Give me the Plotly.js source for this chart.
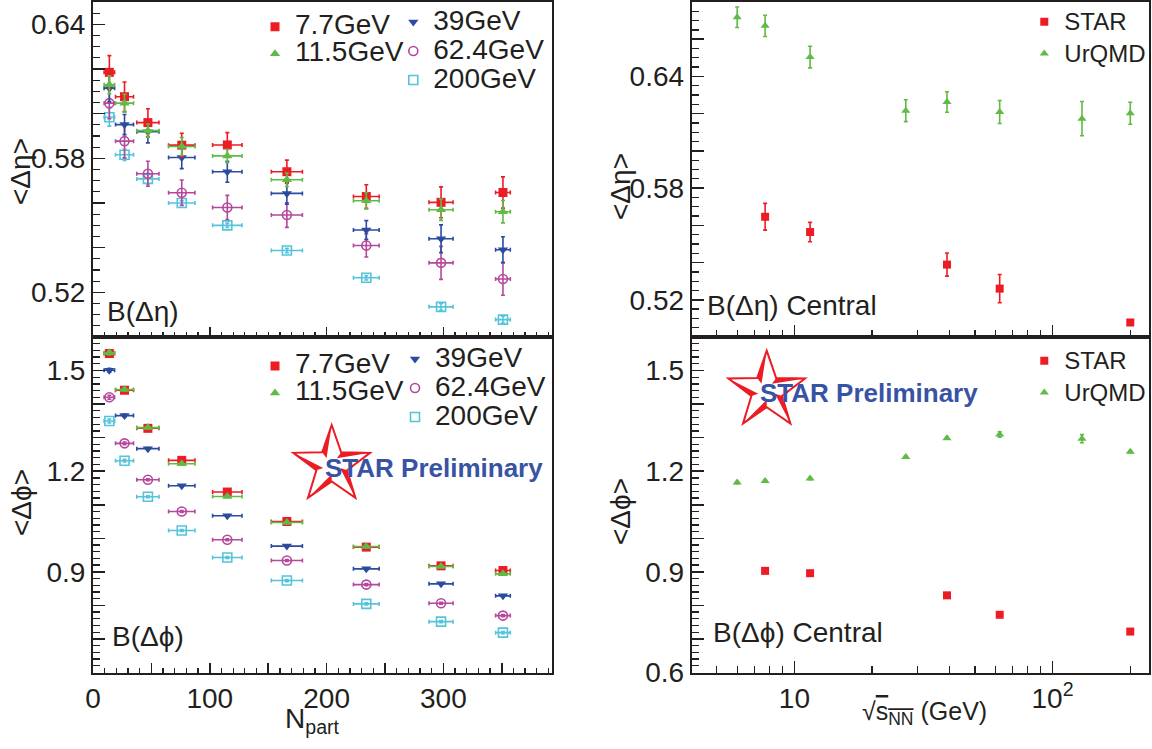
<!DOCTYPE html>
<html><head><meta charset="utf-8">
<script src="https://cdn.plot.ly/plotly-3.0.1.min.js"></script>
<style>html,body{margin:0;padding:0;background:#fff}</style>
</head><body><div id="chart" style="width:1152px;height:749px"></div>
<script>
// ---------- data ----------
const nPart = [14, 27, 47, 76, 115, 166, 234, 298, 351];
const nPartErr = [4.5, 7.7, 9.5, 11.3, 12.6, 13.3, 11, 10.3, 6.3];

const etaMean_7p7  = [0.6185, 0.6076, 0.5960, 0.5859, 0.5860, 0.5740, 0.5629, 0.5603, 0.5647];
const etaErr_7p7   = [0.0075, 0.0066, 0.0062, 0.0053, 0.0055, 0.0052, 0.0053, 0.0069, 0.0070];
const etaMean_11p5 = [0.6129, 0.6047, 0.5924, 0.5853, 0.5811, 0.5704, 0.5610, 0.5570, 0.5561];
const etaErr_11p5  = [0.0040, 0.0040, 0.0030, 0.0040, 0.0030, 0.0030, 0.0037, 0.0048, 0.0050];
const etaMean_39   = [0.6114, 0.5951, 0.5919, 0.5804, 0.5740, 0.5643, 0.5479, 0.5440, 0.5391];
const etaErr_39    = [0.0060, 0.0045, 0.0050, 0.0050, 0.0047, 0.0048, 0.0042, 0.0062, 0.0058];
const etaMean_62p4 = [0.6047, 0.5877, 0.5731, 0.5646, 0.5580, 0.5546, 0.5410, 0.5332, 0.5260];
const etaErr_62p4  = [0.0070, 0.0075, 0.0056, 0.0057, 0.0054, 0.0055, 0.0052, 0.0074, 0.0073];
const etaMean_200  = [0.5984, 0.5816, 0.5708, 0.5600, 0.5500, 0.5387, 0.5265, 0.5135, 0.5078];
const etaErr_200   = [0.0040, 0.0025, 0.0025, 0.0010, 0.0010, 0.0010, 0.0010, 0.0015, 0.0015];

const phiMean_7p7  = [1.5507, 1.4413, 1.3278, 1.2323, 1.1379, 1.0502, 0.9737, 0.9179, 0.9039];
const phiMean_11p5 = [1.5528, 1.4433, 1.3299, 1.2224, 1.1248, 1.0473, 0.9756, 0.9159, 0.8940];
const phiMean_39   = [1.5010, 1.3657, 1.2672, 1.1567, 1.0672, 0.9767, 0.9090, 0.8642, 0.8284];
const phiMean_62p4 = [1.4204, 1.2830, 1.1746, 1.0800, 0.9955, 0.9338, 0.8620, 0.8066, 0.7696];
const phiMean_200  = [1.3498, 1.2313, 1.1239, 1.0233, 0.9427, 0.8740, 0.8045, 0.7516, 0.7188];
const phiErr       = [0.006, 0.004, 0.003, 0.003, 0.003, 0.003, 0.003, 0.003, 0.003];

const sqrtS_star  = [7.7, 11.5, 39, 62.4, 200];
const sqrtS_urqmd = [6, 7.7, 11.5, 27, 39, 62.4, 130, 200];
const centralEta_star     = [0.5646, 0.5564, 0.5389, 0.5260, 0.5078];
const centralEtaErr_star  = [0.0072, 0.0052, 0.0062, 0.0076, 0.0010];
const centralEta_urqmd    = [0.6718, 0.6672, 0.6504, 0.6216, 0.6263, 0.6209, 0.6173, 0.6202];
const centralEtaErr_urqmd = [0.0055, 0.0057, 0.0058, 0.0059, 0.0055, 0.0062, 0.0092, 0.0059];
const centralPhi_star     = [0.903, 0.896, 0.830, 0.772, 0.722];
const centralPhiErr_star  = [0.008, 0.003, 0.003, 0.006, 0.003];
const centralPhi_urqmd    = [1.166, 1.171, 1.178, 1.242, 1.2985, 1.3095, 1.297, 1.258];
const centralPhiErr_urqmd = [0.003, 0.003, 0.003, 0.003, 0.003, 0.008, 0.012, 0.003];

const energyNames = ['7.7GeV', '11.5GeV', '39GeV', '62.4GeV', '200GeV'];
const modelNames = ['STAR', 'UrQMD'];
const leftXTicks = [0, 50, 100, 150, 200, 250, 300, 350];
const leftXTickText = ['0', '', '100', '', '200', '', '300', ''];
const etaTicks = [0.50, 0.52, 0.54, 0.56, 0.58, 0.60, 0.62, 0.64, 0.66, 0.68];
const etaTickText = ['', '0.52', '', '', '0.58', '', '', '0.64', '', ''];
const phiTicks = [0.6, 0.7, 0.8, 0.9, 1.0, 1.1, 1.2, 1.3, 1.4, 1.5, 1.6];
const phiTickTextL = ['', '', '', '0.9', '', '', '1.2', '', '', '1.5', ''];
const phiTickTextR = ['0.6', '', '', '0.9', '', '', '1.2', '', '', '1.5', ''];
const logMajor = [10, 100];
const logMajorText = ['10', '10<sup>2</sup>'];
const logMinor = [4, 5, 6, 7, 8, 9, 20, 30, 40, 50, 60, 70, 80, 90, 200];

// ---------- styling ----------
const W = 1152, H = 749;
const px = v => v / W, py = v => 1 - v / H;
const INK = '#231f20';
const FONT = 'Liberation Sans, Arial, Helvetica, sans-serif';
const C = {e7: '#ec1c24', e11: '#5fba46', e39: '#2b4b9e', e62: '#b5479d', e200: '#55c3d9'};

function big(t, s) { return '<span style="font-size:' + s + 'px">' + t + '</span>'; }

function trace(x, y, ey, ex, name, color, symbol, xa, ya, legend, size, lsize) {
  const open = symbol.indexOf('open') >= 0;
  const t = {
    type: 'scatter', mode: 'markers', x: x, y: y, name: big(name, lsize),
    xaxis: xa, yaxis: ya, legend: legend,
    marker: {symbol: symbol, size: size, color: color, line: {color: color, width: open ? 1.6 : 0}},
    error_y: {type: 'data', array: ey, color: color, thickness: 1.6, width: 2},
    cliponaxis: false
  };
  if (ex) t.error_x = {type: 'data', array: ex, color: color, thickness: 1.6, width: 2};
  return t;
}

const data = [
  // top-left
  trace(nPart, etaMean_200,  etaErr_200,  nPartErr, energyNames[4], C.e200, 'square-open',   'x',  'y',  'legend2', 9, 28),
  trace(nPart, etaMean_62p4, etaErr_62p4, nPartErr, energyNames[3], C.e62,  'circle-open',   'x',  'y',  'legend2', 9, 28),
  trace(nPart, etaMean_39,   etaErr_39,   nPartErr, energyNames[2], C.e39,  'triangle-down', 'x',  'y',  'legend2', 9, 28),
  trace(nPart, etaMean_7p7,  etaErr_7p7,  nPartErr, energyNames[0], C.e7,   'square',        'x',  'y',  'legend',  9, 28),
  trace(nPart, etaMean_11p5, etaErr_11p5, nPartErr, energyNames[1], C.e11,  'triangle-up',   'x',  'y',  'legend',  9, 28),
  // bottom-left
  trace(nPart, phiMean_200,  phiErr, nPartErr, energyNames[4], C.e200, 'square-open',   'x2', 'y2', 'legend4', 9, 28),
  trace(nPart, phiMean_62p4, phiErr, nPartErr, energyNames[3], C.e62,  'circle-open',   'x2', 'y2', 'legend4', 9, 28),
  trace(nPart, phiMean_39,   phiErr, nPartErr, energyNames[2], C.e39,  'triangle-down', 'x2', 'y2', 'legend4', 9, 28),
  trace(nPart, phiMean_7p7,  phiErr, nPartErr, energyNames[0], C.e7,   'square',        'x2', 'y2', 'legend3', 9, 28),
  trace(nPart, phiMean_11p5, phiErr, nPartErr, energyNames[1], C.e11,  'triangle-up',   'x2', 'y2', 'legend3', 9, 28),
  // top-right
  trace(sqrtS_star,  centralEta_star,  centralEtaErr_star,  null, modelNames[0], C.e7,  'square',      'x3', 'y3', 'legend5', 8, 24),
  trace(sqrtS_urqmd, centralEta_urqmd, centralEtaErr_urqmd, null, modelNames[1], C.e11, 'triangle-up', 'x3', 'y3', 'legend5', 8, 24),
  // bottom-right
  trace(sqrtS_star,  centralPhi_star,  centralPhiErr_star,  null, modelNames[0], C.e7,  'square',      'x4', 'y4', 'legend6', 8, 24),
  trace(sqrtS_urqmd, centralPhi_urqmd, centralPhiErr_urqmd, null, modelNames[1], C.e11, 'triangle-up', 'x4', 'y4', 'legend6', 8, 24)
];

const xL = [px(93), px(552)], xR = [px(691.7), px(1149.3)];
const yT = [py(337), py(2)], yB = [py(672.5), py(337)];

function axisBase(extra) {
  return Object.assign({
    showline: true, linecolor: INK, linewidth: 2, mirror: true,
    ticks: 'inside', ticklen: 12, tickwidth: 1.5, tickcolor: INK,
    showgrid: false, zeroline: false, fixedrange: true,
    tickfont: {family: FONT, size: 28, color: INK}
  }, extra);
}
const minorLin = (d, len) => ({ticks: 'inside', dtick: d, ticklen: len, tickwidth: 1.3, tickcolor: INK, showgrid: false});

const layout = {
  width: W, height: H, paper_bgcolor: '#fff', plot_bgcolor: '#fff',
  margin: {l: 0, r: 0, t: 0, b: 0}, showlegend: true,
  font: {family: FONT, color: INK},
  xaxis: axisBase({domain: xL, anchor: 'y', range: [0, 393], tickmode: 'array', tickvals: leftXTicks, ticktext: leftXTickText, showticklabels: false, ticklen: 10, minor: minorLin(10, 5)}),
  yaxis: axisBase({domain: yT, anchor: 'x', range: [0.5, 0.65], tickmode: 'array', tickvals: etaTicks, ticktext: etaTickText, minor: minorLin(0.005, 7)}),
  xaxis2: axisBase({domain: xL, anchor: 'y2', range: [0, 393], tickmode: 'array', tickvals: leftXTicks, ticktext: leftXTickText, ticklen: 10, minor: minorLin(10, 5)}),
  yaxis2: axisBase({domain: yB, anchor: 'x2', range: [0.6, 1.6], tickmode: 'array', tickvals: phiTicks, ticktext: phiTickTextL, minor: minorLin(0.02, 7)}),
  xaxis3: axisBase({domain: xR, anchor: 'y3', type: 'log', range: [Math.log10(4), Math.log10(237)], tickmode: 'array', tickvals: logMajor, ticktext: logMajorText, showticklabels: false,
    minor: {ticks: 'inside', tickmode: 'array', tickvals: logMinor, ticklen: 7, tickwidth: 1.3, tickcolor: INK}}),
  yaxis3: axisBase({domain: yT, anchor: 'x3', range: [0.5, 0.68], tickmode: 'array', tickvals: etaTicks, ticktext: etaTickText, minor: minorLin(0.005, 7)}),
  xaxis4: axisBase({domain: xR, anchor: 'y4', type: 'log', range: [Math.log10(4), Math.log10(237)], tickmode: 'array', tickvals: logMajor, ticktext: logMajorText,
    minor: {ticks: 'inside', tickmode: 'array', tickvals: logMinor, ticklen: 7, tickwidth: 1.3, tickcolor: INK}}),
  yaxis4: axisBase({domain: yB, anchor: 'x4', range: [0.6, 1.6], tickmode: 'array', tickvals: phiTicks, ticktext: phiTickTextR, minor: minorLin(0.02, 7)}),
};

function leg(x, y, fs, order) {
  return {x: px(x), y: py(y), xanchor: 'left', yanchor: 'top', bgcolor: 'rgba(0,0,0,0)', borderwidth: 0,
          font: {family: FONT, size: fs, color: INK}, traceorder: order, itemclick: false, itemdoubleclick: false};
}
layout.legend  = leg(255, 8.2, 18.5, 'normal');
layout.legend2 = leg(393.3, 2.5, 20, 'reversed');
layout.legend3 = leg(255, 347.5, 18.5, 'normal');
layout.legend4 = leg(395, 339.5, 20, 'reversed');
layout.legend5 = leg(1024.3, 1, 22, 'normal');
layout.legend6 = leg(1024.3, 340, 22, 'normal');

function ann(text, x, y, size, opts) {
  return Object.assign({text: text, x: px(x), y: py(y), xref: 'paper', yref: 'paper', showarrow: false,
    xanchor: 'left', yanchor: 'middle', font: {family: FONT, size: size, color: INK}}, opts || {});
}
const BLUE = '#3953a4';
layout.annotations = [
  ann('B(Δη)', 105, 311, 28),
  ann('B(Δϕ)', 110, 636, 28),
  ann('B(Δη) Central', 705, 305, 28),
  ann('B(Δϕ) Central', 711, 632, 28),
  ann('N<sub>part</sub>', 312, 720, 28, {xanchor: 'center'}),
  ann('√<span style="text-decoration:overline">s<sub>NN</sub></span> (GeV)', 924, 713, 25, {xanchor: 'center'}),
  ann('&lt;Δη&gt;', 21, 172, 28, {xanchor: 'center', textangle: -90}),
  ann('&lt;Δϕ&gt;', 22, 503, 28, {xanchor: 'center', textangle: -90}),
  ann('&lt;Δη&gt;', 620, 187, 28, {xanchor: 'center', textangle: -90}),
  ann('&lt;Δϕ&gt;', 620, 512, 28, {xanchor: 'center', textangle: -90}),
  ann('<b>STAR Preliminary</b>', 323, 468, 26, {font: {family: FONT, size: 26, color: BLUE}}),
  ann('<b>STAR Preliminary</b>', 758, 393, 26, {font: {family: FONT, size: 26, color: BLUE}})
];

// STAR logo star outlines (decoration, paper coordinates)
function starShapes(cx, cy, R) {
  const r = R * 0.40;
  const pts = [];
  for (let k = 0; k < 10; k++) {
    const a = (-90 + 36 * k) * Math.PI / 180;
    const rad = (k % 2 === 0) ? R : r;
    pts.push([cx + rad * Math.cos(a), cy + rad * Math.sin(a)]);
  }
  const P = p => px(p[0]).toFixed(5) + ',' + py(p[1]).toFixed(5);
  const outline = 'M' + pts.map(P).join(' L') + ' Z';
  const shapes = [{type: 'path', xref: 'paper', yref: 'paper', path: outline, line: {color: '#ec1c24', width: 2}, fillcolor: 'rgba(255,255,255,0)', layer: 'below'}];
  for (let k = 0; k < 10; k += 2) {
    const tip = pts[k], inner = pts[(k + 9) % 10];
    const mid = [inner[0] + (cx - inner[0]) * 0.45, inner[1] + (cy - inner[1]) * 0.45];
    shapes.push({type: 'path', xref: 'paper', yref: 'paper', path: 'M' + [tip, inner, mid].map(P).join(' L') + ' Z', line: {width: 0}, fillcolor: '#ec1c24', layer: 'below'});
  }
  return shapes;
}
layout.shapes = starShapes(331.7, 465.3, 40.3).concat(starShapes(766.7, 391, 40.3));

Plotly.newPlot('chart', data, layout, {staticPlot: true, displayModeBar: false});
</script>
</body></html>
